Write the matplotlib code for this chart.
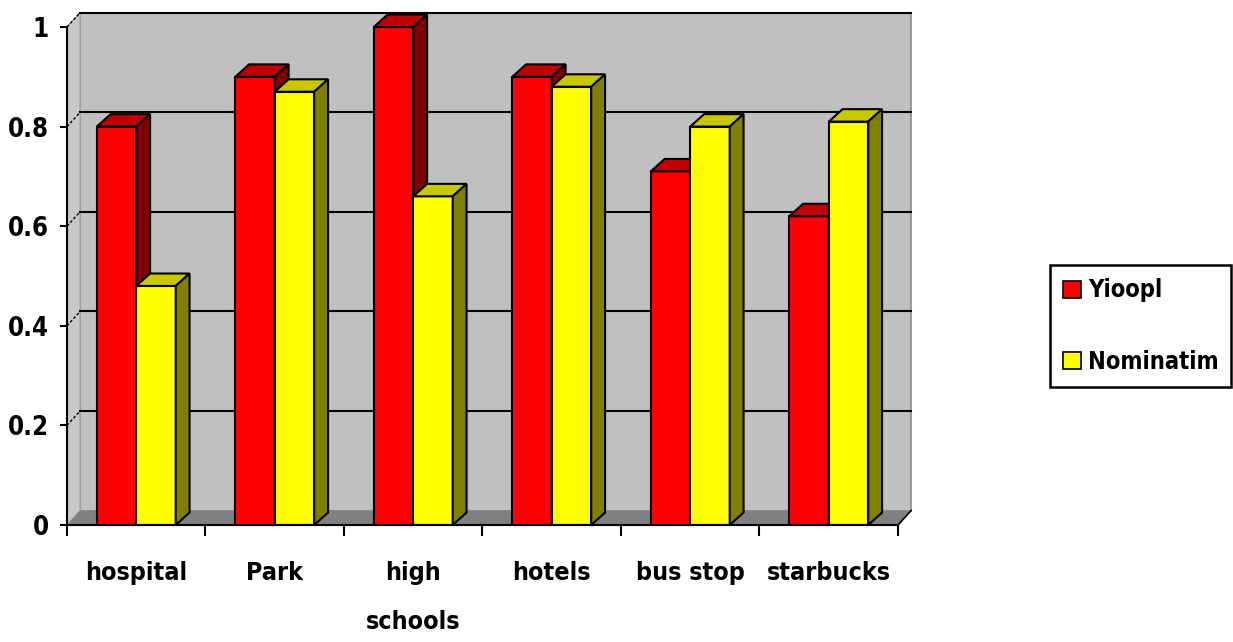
"""Yioopl vs Nominatim: grouped bars drawn with an Excel-style 3D look."""
import matplotlib
matplotlib.use('Agg')
import matplotlib.pyplot as plt
from matplotlib.patches import Polygon, Patch
from matplotlib.ticker import FixedLocator, FixedFormatter

categories = ['hospital', 'Park', 'high\nschools', 'hotels', 'bus stop', 'starbucks']
yioopl = [0.80, 0.90, 1.00, 0.90, 0.71, 0.62]
nominatim = [0.48, 0.87, 0.66, 0.88, 0.80, 0.81]
series_names = ['Yioopl', 'Nominatim']
y_ticks = [0, 0.2, 0.4, 0.6, 0.8, 1.0]
y_tick_labels = ['0', '0.2', '0.4', '0.6', '0.8', '1']

FONT = ['DejaVu Sans']
plt.rcParams['font.family'] = FONT
plt.rcParams['font.weight'] = 'bold'
plt.rcParams['font.stretch'] = 'condensed'

# face colours: front, top, side
red = ('#FF0000', '#C00000', '#800000')
yellow = ('#FFFF00', '#C8C800', '#808000')

fig = plt.figure(figsize=(12.33, 6.42), dpi=100)
ax = fig.add_axes([67 / 1233, 117 / 642, 831 / 1233, 498 / 642])
n = len(categories)
ax.set_xlim(0, n)
ax.set_ylim(0, 1)

# depth offset of the walls and of the bars (data units)
wdx, wdy = 0.095, 0.029
bdx, bdy = 0.10, 0.025


def poly(pts, fc, ec='none', lw=0.0, z=1):
    ax.add_patch(Polygon(pts, closed=True, facecolor=fc, edgecolor=ec,
                         linewidth=lw, zorder=z, clip_on=False))


# back wall, side wall, floor
poly([(wdx, wdy), (n + wdx, wdy), (n + wdx, 1 + wdy), (wdx, 1 + wdy)],
     '#C0C0C0', '#8C8C8C', 1.2, z=1)
poly([(0, 0), (wdx, wdy), (wdx, 1 + wdy), (0, 1)], '#C8C8C8', '#A0A0A0', 1.0, z=1)
poly([(0, 0), (n, 0), (n + wdx, wdy), (wdx, wdy)], '#808080', z=1.5)

# gridlines on back wall and diagonal ticks on the side wall
for t in y_ticks[1:]:
    ax.plot([wdx, n + wdx], [t + wdy, t + wdy], color='black', lw=1.5,
            zorder=1.2, clip_on=False)
    ax.plot([0, wdx], [t, t + wdy], color='black', lw=1.0, ls=(0, (2, 1.5)),
            zorder=1.2, clip_on=False)

ax.plot([n, n + wdx], [0, wdy], color='black', lw=1.2, zorder=1.6, clip_on=False)


def bar3d(x0, w, h, colors, z):
    front, top, side = colors
    kw = dict(ec='black', lw=1.5, z=z)
    poly([(x0, 0), (x0 + w, 0), (x0 + w, h), (x0, h)], front, **kw)
    poly([(x0, h), (x0 + w, h), (x0 + w + bdx, h + bdy), (x0 + bdx, h + bdy)], top, **kw)
    poly([(x0 + w, 0), (x0 + w + bdx, bdy), (x0 + w + bdx, h + bdy), (x0 + w, h)], side, **kw)


bar_w = 0.285
for i in range(n):
    bar3d(i + 0.215, bar_w, yioopl[i], red, z=2 + 2 * i)
    bar3d(i + 0.5, bar_w, nominatim[i], yellow, z=3 + 2 * i)

# axes
for s in ['top', 'right']:
    ax.spines[s].set_visible(False)
ax.spines['left'].set_linewidth(1.5)
ax.spines['bottom'].set_linewidth(1.5)
ax.spines['left'].set_zorder(20)
ax.spines['bottom'].set_zorder(20)
ax.set_facecolor('none')

ax.yaxis.set_major_locator(FixedLocator(y_ticks))
ax.yaxis.set_major_formatter(FixedFormatter(y_tick_labels))
ax.tick_params(axis='y', direction='out', length=5, width=1.5, pad=8,
               labelsize=18.5)

ax.xaxis.set_major_locator(FixedLocator(list(range(n + 1))))
ax.xaxis.set_major_formatter(FixedFormatter([''] * (n + 1)))
ax.xaxis.set_minor_locator(FixedLocator([i + 0.5 for i in range(n)]))
ax.xaxis.set_minor_formatter(FixedFormatter(categories))
ax.tick_params(axis='x', which='major', direction='out', length=8, width=1.5)
ax.tick_params(axis='x', which='minor', length=0, pad=26, labelsize=18)
for lab in ax.get_xticklabels(minor=True):
    lab.set_linespacing(2.3)
    lab.set_fontweight('bold')
for lab in ax.get_yticklabels():
    lab.set_fontweight('bold')

handles = [Patch(facecolor=red[0], edgecolor='black', linewidth=1.2),
           Patch(facecolor=yellow[0], edgecolor='black', linewidth=1.2)]
leg = fig.legend(handles, series_names, loc='center left',
                 bbox_to_anchor=(1050 / 1233, 1 - 326 / 642),
                 prop={'family': FONT, 'weight': 'bold', 'size': 17,
                       'stretch': 'condensed'},
                 handlelength=0.75, handleheight=0.75, handletextpad=0.3,
                 labelspacing=2.0, borderpad=0.55, borderaxespad=0,
                 fancybox=False, framealpha=1, edgecolor='black')
leg.get_frame().set_linewidth(1.8)

fig.savefig('out.png', dpi=100)
plt.close(fig)
